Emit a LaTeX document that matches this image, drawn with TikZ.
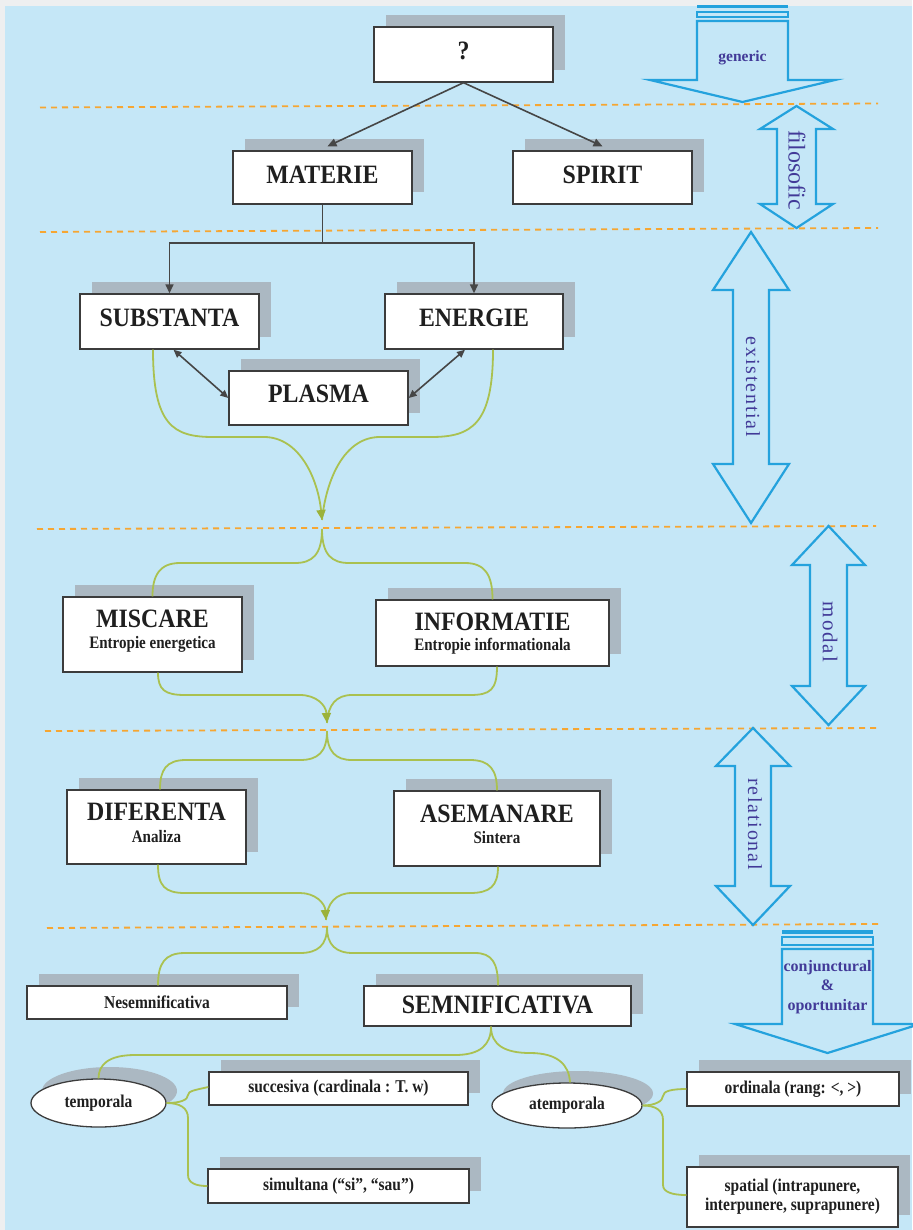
\documentclass[tikz,border=0pt]{standalone}
\usepackage{fontspec}
\setmainfont{Liberation Serif}
\newfontfamily\titlefam[FakeStretch=0.9]{Liberation Serif}
\newfontfamily\smallfam[FakeStretch=0.86]{Liberation Serif}
\newfontfamily\spacedfam[LetterSpace=9]{Liberation Serif}
\usetikzlibrary{arrows.meta,shapes.geometric,shadows}

\definecolor{bgblue}{RGB}{197,231,247}
\definecolor{edgegrey}{RGB}{238,239,240}
\definecolor{shgrey}{RGB}{171,184,194}
\definecolor{boxline}{RGB}{60,60,60}
\definecolor{linkgrey}{RGB}{70,70,70}
\definecolor{olive}{RGB}{170,193,80}
\definecolor{olivetip}{RGB}{155,178,58}
\definecolor{dashorange}{RGB}{246,166,50}
\definecolor{arrowblue}{RGB}{36,162,221}
\definecolor{labelpurple}{RGB}{66,58,152}

\newcommand\boxtitle{\titlefam\bfseries\fontsize{26.5}{29}\selectfont}
\newcommand\boxsub{\smallfam\bfseries\fontsize{17.5}{20}\selectfont}
\newcommand\boxsmall{\smallfam\bfseries\fontsize{18}{19}\selectfont}

\tikzset{
  box/.style={rectangle, draw=boxline, line width=1.4pt, fill=white, inner sep=0pt,
    text=black!88, general shadow={fill=shgrey, shadow xshift=12pt, shadow yshift=12pt}},
  oval/.style={ellipse, draw=boxline, line width=1.3pt, fill=white, inner sep=0pt,
    text=black!88, font=\boxsmall,
    general shadow={fill=shgrey, shadow xshift=11pt, shadow yshift=12pt}},
  ttxt/.style={anchor=base, inner sep=0pt, text=black!88, font=\boxtitle},
  stxt/.style={anchor=base, inner sep=0pt, text=black!88, font=\boxsub},
  blk/.style={draw=linkgrey, line width=1.6pt, -{Triangle[length=9pt,width=8pt]}},
  dbl/.style={draw=linkgrey, line width=1.6pt, {Triangle[length=8pt,width=7pt]}-{Triangle[length=8pt,width=7pt]}},
  grn/.style={draw=olive, line width=1.8pt},
  grnarr/.style={grn, -{Triangle[length=10pt,width=9pt,color=olivetip]}},
  sep/.style={draw=dashorange, line width=1.8pt, dash pattern=on 6pt off 5pt},
  barrow/.style={draw=arrowblue, line width=2.2pt, line join=miter},
  lbl/.style={text=labelpurple, inner sep=0pt},
}

\begin{document}
\begin{tikzpicture}[x=1pt,y=-1pt]
\useasboundingbox (0,0) rectangle (912,1230);
\fill[edgegrey] (0,0) rectangle (912,1230);
\fill[bgblue] (5,6) rectangle (912,1230);

% level separators
\draw[sep] (40,107.5) -- (878,103.5);
\draw[sep] (40,232) -- (878,228);
\draw[sep] (37,529) -- (876,526);
\draw[sep] (45,731) -- (880,728);
\draw[sep] (47,928) -- (880,924);

% ---- side arrows ----
% generic
\fill[arrowblue] (697,5) rectangle (788,8.5);
\draw[barrow] (697,12) rectangle (788,17);
\draw[barrow] (697,21) -- (788,21) -- (788,80) -- (835,80) -- (742.5,102) -- (650,80) -- (697,80) -- cycle;
\node[lbl, font=\bfseries\fontsize{15.5}{17}\selectfont] (lgen) at (742.5,58) {generic};
% filosofic
\draw[barrow] (796.5,106) -- (833,129) -- (816,129) -- (816,204) -- (833,204) -- (796.5,228)
  -- (760,204) -- (777,204) -- (777,129) -- (760,129) -- cycle;
\node[lbl, rotate=-90, font=\fontsize{24}{26}\selectfont] (lfil) at (797,170) {filosofic};
% existential
\draw[barrow] (751,232) -- (789,290) -- (769,290) -- (769,464) -- (789,464) -- (751,523)
  -- (713,464) -- (733,464) -- (733,290) -- (713,290) -- cycle;
\node[lbl, rotate=-90, font=\spacedfam\fontsize{20}{22}\selectfont] (lexi) at (753,387) {existential};
% modal
\draw[barrow] (828.5,526) -- (865,565) -- (847,565) -- (847,686) -- (865,686) -- (828.5,725)
  -- (792,686) -- (810,686) -- (810,565) -- (792,565) -- cycle;
\node[lbl, rotate=-90, font=\spacedfam\fontsize{21}{23}\selectfont] (lmod) at (830,632) {modal};
% relational
\draw[barrow] (753,728) -- (790,766) -- (771,766) -- (771,886) -- (790,886) -- (753,925)
  -- (716,886) -- (735,886) -- (735,766) -- (716,766) -- cycle;
\node[lbl, rotate=-90, font=\spacedfam\fontsize{20}{22}\selectfont] (lrel) at (755,824) {relational};
% conjunctural & oportunitar
\fill[arrowblue] (782,930) rectangle (873,933.5);
\draw[barrow] (782,937) rectangle (873,945);
\draw[barrow] (782,949) -- (873,949) -- (873,1024) -- (920,1024) -- (827.5,1053) -- (735,1024) -- (782,1024) -- cycle;
\node[lbl, align=center, font=\bfseries\fontsize{16}{19.5}\selectfont] (lcon) at (827.5,987) {conjunctural\\\&\\oportunitar};

% ---- boxes ----
\node[box, minimum width=179pt, minimum height=55pt, font=\boxtitle, text depth=7pt] (q) at (463.5,54.5) {?};
\node[box, minimum width=179pt, minimum height=53pt, font=\boxtitle, text depth=6pt] (mat) at (322.5,177.5) {MATERIE};
\node[box, minimum width=179pt, minimum height=53pt, font=\boxtitle, text depth=6pt] (spi) at (602.5,177.5) {SPIRIT};
\node[box, minimum width=179pt, minimum height=55pt, font=\boxtitle, text depth=8pt] (sub) at (169.5,321.5) {SUBSTANTA};
\node[box, minimum width=178pt, minimum height=55pt, font=\boxtitle, text depth=8pt] (ene) at (474,321.5) {ENERGIE};
\node[box, minimum width=179pt, minimum height=54pt, font=\boxtitle, text depth=9pt] (pla) at (318.5,398) {PLASMA};

\node[box, minimum width=179pt, minimum height=75pt] (misc) at (152.5,634.5) {};
\node[ttxt] (misct) at (152.5,627) {MISCARE};
\node[stxt] (miscs) at (152.5,648) {Entropie energetica};
\node[box, minimum width=233pt, minimum height=66pt] (info) at (492.5,633) {};
\node[ttxt] (infot) at (492.5,630) {INFORMATIE};
\node[stxt] (infos) at (492.5,650) {Entropie informationala};

\node[box, minimum width=179pt, minimum height=74pt] (dif) at (156.5,827) {};
\node[ttxt] (dift) at (156.5,820) {DIFERENTA};
\node[stxt] (difs) at (156.5,842) {Analiza};
\node[box, minimum width=206pt, minimum height=75pt] (ase) at (497,828.5) {};
\node[ttxt] (aset) at (497,822) {ASEMANARE};
\node[stxt] (ases) at (497,843) {Sintera};

\node[box, minimum width=260pt, minimum height=33pt, font=\boxsmall] (nes) at (157,1002.5) {Nesemnificativa};
\node[box, minimum width=267pt, minimum height=40pt, font=\boxtitle, text depth=2pt] (sem) at (497.5,1006) {SEMNIFICATIVA};

\node[oval, minimum width=135pt, minimum height=48pt] (tmp) at (98.5,1103) {temporala};
\node[oval, minimum width=150pt, minimum height=45pt] (atm) at (567,1105.5) {atemporala};

\node[box, minimum width=259pt, minimum height=33pt, font=\boxsmall] (suc) at (338.5,1088.5) {succesiva (cardinala : T. w)};
\node[box, minimum width=261pt, minimum height=34pt, font=\boxsmall] (sim) at (338.5,1186) {simultana (“si”, “sau”)};
\node[box, minimum width=212pt, minimum height=34pt, font=\boxsmall] (ord) at (793,1089) {ordinala (rang: <, >)};
\node[box, minimum width=211pt, minimum height=60pt, font=\boxsmall, align=center] (spa) at (792.5,1197) {spatial (intrapunere,\\interpunere, suprapunere)};

% ---- grey connectors ----
\draw[blk] (q.south) -- ([shift={(5,-4)}]mat.north);
\draw[blk] (q.south) -- ([shift={(0,-4)}]spi.north);
\coordinate (fork) at (322.5,243);
\draw[draw=linkgrey, line width=1.6pt] (mat.south) -- (fork);
\draw[blk] (fork) -| (sub.north);
\draw[blk] (fork) -| (ene.north);
\draw[dbl] ([xshift=4pt]sub.south) -- (pla.west);
\draw[dbl] ([xshift=-9pt]ene.south) -- (pla.east);

% ---- green flow ----
\coordinate (m1) at (322,520);
\coordinate (s2) at (322,529);
\coordinate (m3) at (327,723);
\coordinate (s4) at (327,731);
\coordinate (m5) at (326,920);
\coordinate (s6) at (327,927);

\draw[grn] ([xshift=19pt]ene.south) .. controls (493,425) and (471,437) .. (431,437) -- (380,437)
  .. controls (344,437) and (326,480) .. (m1);
\draw[grnarr] ([xshift=-16.5pt]sub.south) .. controls (153,425) and (173,437) .. (213,437) -- (264,437)
  .. controls (300,437) and (318,480) .. (m1);

\draw[grn] (s2) .. controls (322,555) and (312,563) .. (295,563) -- (180,563)
  .. controls (160,563) and (152.5,575) .. (misc.north);
\draw[grn] (s2) .. controls (322,555) and (332,563) .. (349,563) -- (465,563)
  .. controls (485,563) and (492.5,575) .. (info.north);

\draw[grn] ([xshift=4.5pt]info.south) .. controls (497,690) and (490,695) .. (470,695) -- (352,695)
  .. controls (336,695) and (328,705) .. (m3);
\draw[grnarr] ([xshift=5.5pt]misc.south) .. controls (158,690) and (165,695) .. (185,695) -- (300,695)
  .. controls (316,695) and (326,705) .. (m3);

\draw[grn] (s4) .. controls (327,752) and (318,760) .. (300,760) -- (186,760)
  .. controls (166,760) and (160,770) .. ([xshift=3.5pt]dif.north);
\draw[grn] (s4) .. controls (327,752) and (336,760) .. (352,760) -- (470,760)
  .. controls (490,760) and (497,770) .. (ase.north);

\draw[grn] ([xshift=1pt]ase.south) .. controls (498,886) and (490,893) .. (470,893) -- (352,893)
  .. controls (336,893) and (327,903) .. (m5);
\draw[grnarr] ([xshift=1.5pt]dif.south) .. controls (158,886) and (165,893) .. (185,893) -- (300,893)
  .. controls (315,893) and (325,903) .. (m5);

\draw[grn] (s6) .. controls (327,945) and (318,953) .. (300,953) -- (185,953)
  .. controls (165,953) and (158,963) .. ([xshift=1pt]nes.north);
\draw[grn] (s6) .. controls (327,945) and (336,953) .. (353,953) -- (475,953)
  .. controls (492,953) and (498,963) .. ([xshift=0.5pt]sem.north);

\draw[grn] ([xshift=-6.5pt]sem.south) .. controls (491,1045) and (480,1055) .. (455,1055) -- (135,1055)
  .. controls (108,1055) and (98.5,1065) .. (tmp.north);
\draw[grn] ([xshift=-6.5pt]sem.south) .. controls (491,1045) and (505,1053) .. (530,1053)
  .. controls (558,1053) and (569,1065) .. ([xshift=3pt]atm.north);

\draw[grn] (tmp.east) .. controls (180,1103) and (188,1100) .. (188,1095)
  .. controls (188,1091) and (195,1090) .. ([yshift=1.5pt]suc.west);
\draw[grn] (tmp.east) .. controls (180,1103) and (188,1108) .. (188,1118) -- (188,1175)
  .. controls (188,1183) and (196,1186) .. (sim.west);

\draw[grn] (atm.east) .. controls (655,1105.5) and (663,1101) .. (663,1096)
  .. controls (663,1091) and (672,1089) .. (ord.west);
\draw[grn] (atm.east) .. controls (655,1105.5) and (663,1110) .. (663,1120) -- (663,1185)
  .. controls (663,1192) and (672,1195) .. ([yshift=2pt]spa.west);
\end{tikzpicture}
\end{document}
